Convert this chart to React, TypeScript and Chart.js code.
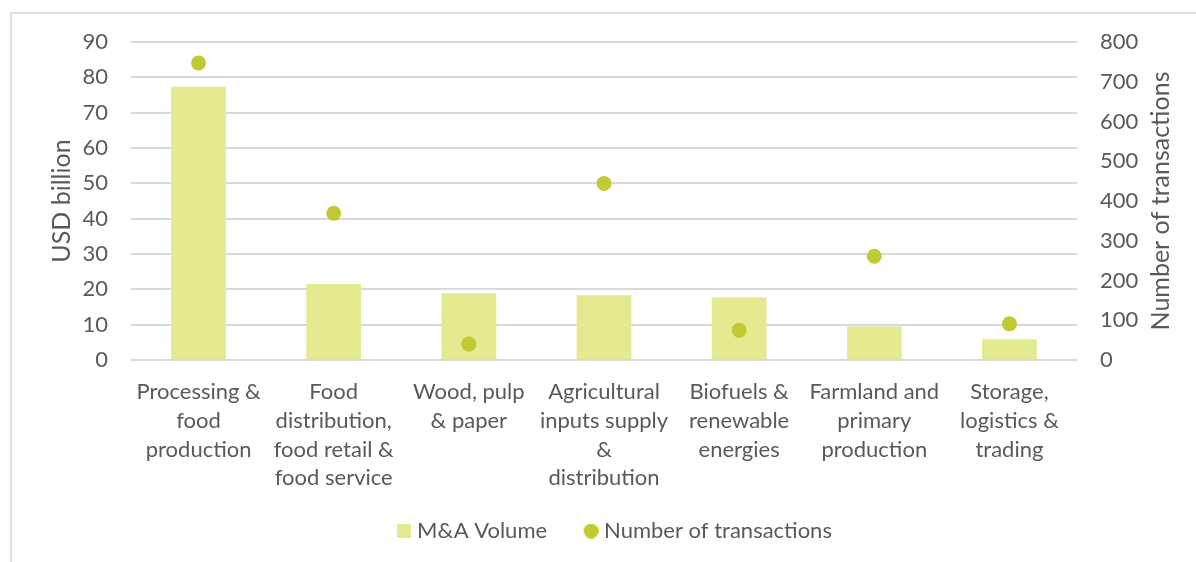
import React, { useEffect, useRef } from "react";
import { Chart, registerables } from "chart.js";

Chart.register(...registerables);

const categories: string[][] = [
  ["Processing &", "food", "production"],
  ["Food", "distribution,", "food retail &", "food service"],
  ["Wood, pulp", "& paper"],
  ["Agricultural", "inputs supply", "&", "distribution"],
  ["Biofuels &", "renewable", "energies"],
  ["Farmland and", "primary", "production"],
  ["Storage,", "logistics &", "trading"],
];
const volumeUsdBn = [77.3, 21.5, 18.9, 18.3, 17.7, 9.5, 5.9];
const transactions = [747, 369, 40, 444, 75, 261, 91];

const leftAxisMax = 90;
const leftAxisStep = 10;
const rightAxisMax = 800;
const rightAxisStep = 100;

const seriesNames = ["M&A Volume", "Number of transactions"];
const leftTitle = "USD billion";
const rightTitle = "Number of transactions";

const BAR_COLOR = "#E4EA8F";
const POINT_COLOR = "#C3C935";
const TEXT_COLOR = "#595959";
const GRID_COLOR = "#D9D9D9";
const FONT = "Lato, 'Open Sans', sans-serif";

// legend marker images: marker drawn at the right end of a wider transparent canvas
function makeSquare(color: string, w: number, size: number) {
  const c = document.createElement("canvas");
  c.width = w;
  c.height = size;
  const g = c.getContext("2d")!;
  g.fillStyle = color;
  g.fillRect(w - size, 0, size, size);
  return c;
}
function makeCircle(color: string, w: number, size: number) {
  const c = document.createElement("canvas");
  c.width = w;
  c.height = size;
  const g = c.getContext("2d")!;
  g.fillStyle = color;
  g.beginPath();
  g.arc(w - size / 2, size / 2, size / 2, 0, Math.PI * 2);
  g.fill();
  return c;
}

export default function App() {
  const ref = useRef<HTMLCanvasElement>(null);

  useEffect(() => {
    document.body.style.margin = "0";
    const sq = makeSquare(BAR_COLOR, 28, 14);
    const circ = makeCircle(POINT_COLOR, 29, 15);

    const rightTitlePlugin = {
      id: "rightTitle",
      afterDraw(chart: any) {
        const s = chart.scales.y1;
        const ctx = chart.ctx;
        ctx.save();
        ctx.font = `25px ${FONT}`;
        ctx.fillStyle = TEXT_COLOR;
        ctx.textAlign = "center";
        ctx.textBaseline = "middle";
        ctx.translate(s.right - 35, (s.top + s.bottom) / 2);
        ctx.rotate(-Math.PI / 2);
        ctx.fillText(rightTitle, 0, 0);
        ctx.restore();
      },
    };

    const chart = new Chart(ref.current!, {
      type: "bar",
      data: {
        labels: categories as any,
        datasets: [
          {
            type: "bar",
            label: seriesNames[0],
            data: volumeUsdBn,
            backgroundColor: BAR_COLOR,
            yAxisID: "y",
            barPercentage: 0.405,
            categoryPercentage: 1,
            order: 1,
          } as any,
          {
            type: "line",
            label: seriesNames[1],
            data: transactions,
            yAxisID: "y1",
            showLine: false,
            pointRadius: 7.5,
            pointHoverRadius: 7.5,
            pointBackgroundColor: POINT_COLOR,
            pointBorderWidth: 0,
            borderColor: POINT_COLOR,
            backgroundColor: POINT_COLOR,
            order: 0,
          } as any,
        ],
      },
      options: {
        animation: false,
        responsive: false,
        maintainAspectRatio: false,
        layout: { padding: { left: 24, right: 0, top: 42, bottom: 10 } },
        plugins: {
          tooltip: { enabled: false },
          legend: {
            position: "bottom",
            labels: {
              usePointStyle: true,
              boxWidth: 18,
              boxHeight: 14,
              padding: 28,
              color: TEXT_COLOR,
              font: { family: FONT, size: 22 },
              generateLabels: () => [
                { text: seriesNames[0], pointStyle: sq, fillStyle: BAR_COLOR, strokeStyle: BAR_COLOR, lineWidth: 0, hidden: false, datasetIndex: 0, fontColor: TEXT_COLOR },
                { text: seriesNames[1], pointStyle: circ, fillStyle: POINT_COLOR, strokeStyle: POINT_COLOR, lineWidth: 0, hidden: false, datasetIndex: 1, fontColor: TEXT_COLOR },
              ] as any,
            },
          },
        },
        scales: {
          x: {
            grid: { display: false },
            border: { display: false },
            ticks: {
              autoSkip: false,
              maxRotation: 0,
              minRotation: 0,
              padding: 10,
              color: TEXT_COLOR,
              font: { family: FONT, size: 22, lineHeight: 1.3 },
            },
            afterFit: (s: any) => {
              s.height = 132;
            },
          },
          y: {
            position: "left",
            min: 0,
            max: leftAxisMax,
            ticks: {
              stepSize: leftAxisStep,
              padding: 23,
              color: TEXT_COLOR,
              font: { family: FONT, size: 22 },
            },
            grid: { color: GRID_COLOR, lineWidth: 2, drawTicks: false },
            border: { display: false },
            title: {
              display: true,
              text: leftTitle,
              color: TEXT_COLOR,
              font: { family: FONT, size: 25 },
              padding: { top: 23, bottom: 0 },
            },
            afterFit: (s: any) => {
              s.width = 107;
            },
          },
          y1: {
            position: "right",
            min: 0,
            max: rightAxisMax,
            ticks: {
              stepSize: rightAxisStep,
              padding: 23,
              color: TEXT_COLOR,
              font: { family: FONT, size: 22 },
            },
            grid: { display: false, drawTicks: false },
            border: { display: false },
            afterFit: (s: any) => {
              s.width = 119;
            },
          },
        },
      },
      plugins: [rightTitlePlugin],
    });
    return () => chart.destroy();
  }, []);

  return (
    <div style={{ position: "absolute", left: 0, top: 0, width: 1196, height: 562, overflow: "hidden", background: "#fff" }}>
      <div
        style={{
          position: "absolute",
          left: 10,
          top: 12,
          width: 1300,
          height: 700,
          border: "2px solid #DEDEDE",
          boxSizing: "border-box",
        }}
      />
      <canvas ref={ref} width={1196} height={562} style={{ position: "absolute", left: 0, top: 0, width: 1196, height: 562 }} />
    </div>
  );
}
